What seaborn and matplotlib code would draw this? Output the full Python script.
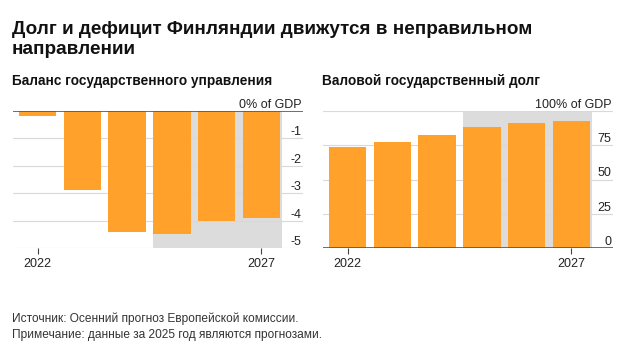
import matplotlib
matplotlib.use("Agg")
import matplotlib.pyplot as plt
import seaborn as sns
import pandas as pd

# Data (EU Commission autumn forecast)
years = ["2022", "2023", "2024", "2025", "2026", "2027"]
balance = [-0.2, -2.9, -4.4, -4.5, -4.0, -3.9]
debt = [74.0, 77.1, 82.4, 88.5, 91.0, 92.7]

balance_ticks = [0, -1, -2, -3, -4, -5]
balance_labels = ["0% of GDP", "-1", "-2", "-3", "-4", "-5"]
debt_ticks = [100, 75, 50, 25, 0]
debt_labels = ["100% of GDP", "75", "50", "25", "0"]

title = "Долг и дефицит Финляндии движутся в неправильном\nнаправлении"
left_title = "Баланс государственного управления"
right_title = "Валовой государственный долг"
note1 = "Источник: Осенний прогноз Европейской комиссии."
note2 = "Примечание: данные за 2025 год являются прогнозами."

orange = "#FFA12A"
shade = "#DCDCDC"
grid_c = "#D9D9D9"
base_c = "#555555"

sns.set_theme(style="white")
plt.rcParams["font.family"] = ["Liberation Sans", "DejaVu Sans"]

W, H = 629, 357
fig = plt.figure(figsize=(W / 100, H / 100), dpi=100)


def px_axes(x0, y_top, x1, y_bot):
    return fig.add_axes([x0 / W, 1 - y_bot / H, (x1 - x0) / W, (y_bot - y_top) / H])


def draw_panel(ax, vals, ticks, labels, ylim, zero):
    df = pd.DataFrame({"year": years, "val": vals})
    ax.axvspan(2.58, 5.45, color=shade, zorder=0, lw=0)
    sns.barplot(data=df, x="year", y="val", color=orange, saturation=1,
                width=0.84, linewidth=0, ax=ax, zorder=2)
    ax.set_xlim(-0.55, 5.93)
    ax.set_ylim(*ylim)
    for t, lab in zip(ticks, labels):
        ax.axhline(t, color=base_c if t == zero else grid_c,
                   lw=1.2 if t == zero else 0.8, zorder=3 if t == zero else 1)
        ax.text(0.995, t, lab, transform=ax.get_yaxis_transform(),
                ha="right", va="bottom", fontsize=9, color="#222222")
    for s in ax.spines.values():
        s.set_visible(False)
    ax.set_yticks([])
    ax.set_xticks([0, 5])
    ax.set_xticklabels(["2022", "2027"], fontsize=9, color="#222222")
    ax.tick_params(axis="x", bottom=True, length=4, width=0.8,
                   color="#444444", pad=3)
    ax.set_xlabel("")
    ax.set_ylabel("")


ax1 = px_axes(13, 111, 303, 248)
draw_panel(ax1, balance, balance_ticks, balance_labels, (-5, 0), 0)

ax2 = px_axes(323, 111, 613, 248)
draw_panel(ax2, debt, debt_ticks, debt_labels, (0, 100), 0)

fig.text(12 / W, 1 - 21 / H, title, ha="left", va="top", fontsize=13.6,
         fontweight="bold", color="#111111", linespacing=1.25)
fig.text(12 / W, 1 - 81 / H, left_title, ha="left", va="center",
         fontsize=9.8, fontweight="bold", color="#111111")
fig.text(322 / W, 1 - 81 / H, right_title, ha="left", va="center",
         fontsize=9.8, fontweight="bold", color="#111111")
fig.text(12 / W, 1 - 319 / H, note1, ha="left", va="center",
         fontsize=8.6, color="#333333")
fig.text(12 / W, 1 - 335 / H, note2, ha="left", va="center",
         fontsize=8.6, color="#333333")

fig.savefig("out.png", dpi=100, facecolor="white")
